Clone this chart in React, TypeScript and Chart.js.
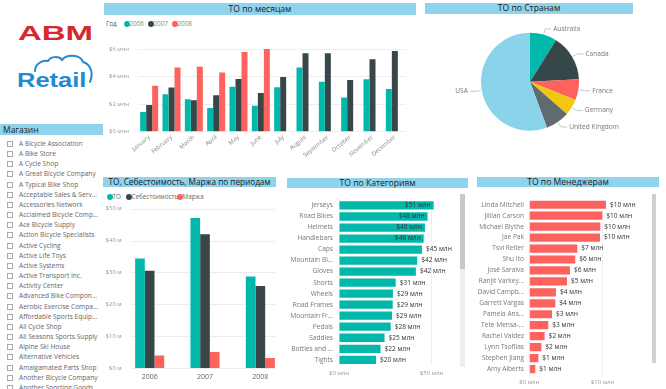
import React, { useEffect, useRef } from 'react';
import { Chart, registerables } from 'chart.js';

Chart.register(...registerables);

const FONT = '"Open Sans", "Noto Sans", sans-serif';
const TEAL = '#01B8AA';
const DARK = '#374649';
const RED = '#FD625E';
const YELLOW = '#F2C80F';
const GRAY = '#5F6B6D';
const LIGHT = '#8AD4EB';
const BAND = '#8FD3EC';

// ---- ТО по месяцам (млн $)
const months = ['January', 'February', 'March', 'April', 'May', 'June', 'July', 'August', 'September', 'October', 'November', 'December'];
const yearLabels = ['2006', '2007', '2008'];
const sales2006 = [1.43, 2.71, 2.35, 1.72, 3.27, 1.89, 3.22, 4.65, 3.63, 2.49, 3.8, 3.1];
const sales2007 = [1.94, 3.2, 2.28, 2.64, 3.83, 2.81, 3.97, 5.69, 5.69, 3.75, 5.25, 5.86];
const sales2008 = [3.34, 4.65, 4.72, 4.29, 5.79, 6.0, null, null, null, null, null, null];
const monthTicks = [0, 2, 4, 6];

// ---- ТО по Странам
const countries = ['Australia', 'Canada', 'France', 'Germany', 'United Kingdom', 'USA'];
const countrySales = [9.8, 16.8, 7.6, 5.9, 8.7, 61.2];

// ---- ТО, Себестоимость, Маржа по периодам
const periods = ['2006', '2007', '2008'];
const periodRevenue = [34.4, 47.1, 28.7];
const periodCost = [30.5, 42.0, 25.7];
const periodMargin = [3.9, 5.0, 3.1];
const periodTicks = [0, 10, 20, 30, 40, 50];

// ---- ТО по Категориям
const categories = ['Jerseys', 'Road Bikes', 'Helmets', 'Handlebars', 'Caps', 'Mountain Bi...', 'Gloves', 'Shorts', 'Wheels', 'Road Frames', 'Mountain Fr...', 'Pedals', 'Saddles', 'Bottles and ...', 'Tights'];
const categorySales = [51.1, 47.8, 46.4, 45.7, 44.8, 42.2, 41.5, 30.6, 29.1, 29.0, 28.6, 27.9, 24.6, 22.4, 20.0];
const categoryTicks = [0, 50];

// ---- ТО по Менеджерам
const managers = ['Linda Mitchell', 'Jillian Carson', 'Michael Blythe', 'Jae Pak', 'Tsvi Reiter', 'Shu Ito', 'José Saraiva', 'Ranjit Varkey...', 'David Campb...', 'Garrett Vargas', 'Pamela Ans...', 'Tete Mensa-...', 'Rachel Valdez', 'Lynn Tsoflias', 'Stephen Jiang', 'Amy Alberts'];
const managerSales = [10.46, 9.96, 9.69, 9.64, 6.55, 6.27, 5.55, 5.14, 3.64, 3.55, 3.09, 2.59, 2.09, 1.64, 1.23, 0.82];
const managerTicks = [0, 10];

// ---- Магазин
const stores = ['A Bicycle Association', 'A Bike Store', 'A Cycle Shop', 'A Great Bicycle Company', 'A Typical Bike Shop', 'Acceptable Sales & Serv...', 'Accessories Network', 'Acclaimed Bicycle Comp...', 'Ace Bicycle Supply', 'Action Bicycle Specialists', 'Active Cycling', 'Active Life Toys', 'Active Systems', 'Active Transport Inc.', 'Activity Center', 'Advanced Bike Compon...', 'Aerobic Exercise Compa...', 'Affordable Sports Equip...', 'All Cycle Shop', 'All Seasons Sports Supply', 'Alpine Ski House', 'Alternative Vehicles', 'Amalgamated Parts Shop', 'Another Bicycle Company', 'Another Sporting Goods...'];

const mln = (v: number) => `$${v} млн`;

function ChartBox(props: { left: number; top: number; width: number; height: number; make: () => any }) {
  const ref = useRef<HTMLCanvasElement>(null);
  useEffect(() => {
    const chart = new Chart(ref.current as HTMLCanvasElement, props.make());
    return () => chart.destroy();
  }, []);
  const { left, top, width, height } = props;
  return (
    <div style={{ position: 'absolute', left, top, width, height }}>
      <canvas ref={ref} width={width} height={height} style={{ width, height, display: 'block' }} />
    </div>
  );
}

const barLabelPlugin = (insideMin: number | null) => ({
  id: 'barLabels',
  afterDatasetsDraw(chart: any) {
    const ctx = chart.ctx;
    const meta = chart.getDatasetMeta(0);
    const data = chart.data.datasets[0].data;
    ctx.save();
    ctx.font = `6.6px ${FONT}`;
    ctx.fillStyle = '#333';
    ctx.textBaseline = 'middle';
    meta.data.forEach((el: any, i: number) => {
      const v = data[i];
      const txt = mln(Math.round(v));
      if (insideMin !== null && v >= insideMin) {
        ctx.textAlign = 'right';
        ctx.fillText(txt, el.x - 3, el.y);
      } else {
        ctx.textAlign = 'left';
        ctx.fillText(txt, el.x + 4, el.y);
      }
    });
    ctx.restore();
  },
});

const pieLabelPlugin = {
  id: 'pieLabels',
  afterDraw(chart: any) {
    const ctx = chart.ctx;
    const meta = chart.getDatasetMeta(0);
    ctx.save();
    ctx.font = `6.6px ${FONT}`;
    ctx.fillStyle = '#777';
    ctx.strokeStyle = '#bbb';
    ctx.lineWidth = 0.8;
    ctx.textBaseline = 'middle';
    meta.data.forEach((arc: any, i: number) => {
      const mid = (arc.startAngle + arc.endAngle) / 2;
      const r = arc.outerRadius;
      const c = Math.cos(mid);
      const s = Math.sin(mid);
      const x1 = arc.x + c * (r + 1);
      const y1 = arc.y + s * (r + 1);
      const x2 = arc.x + c * (r + 6);
      const y2 = arc.y + s * (r + 6);
      const dir = c >= 0 ? 1 : -1;
      const x3 = x2 + dir * 6;
      ctx.beginPath();
      ctx.moveTo(x1, y1);
      ctx.lineTo(x2, y2);
      ctx.lineTo(x3, y2);
      ctx.stroke();
      ctx.textAlign = dir > 0 ? 'left' : 'right';
      ctx.fillText(chart.data.labels[i], x3 + dir * 2, y2);
    });
    ctx.restore();
  },
};

const periodGridPlugin = {
  id: 'periodGrid',
  beforeDatasetsDraw(chart: any) {
    const y = chart.scales.y;
    const ctx = chart.ctx;
    ctx.save();
    ctx.strokeStyle = '#ececec';
    ctx.lineWidth = 1;
    const x0 = chart.chartArea.left + 9;
    const x1 = chart.chartArea.right - 13;
    y.ticks.forEach((t: any) => {
      const py = Math.round(y.getPixelForValue(t.value)) + 0.5;
      ctx.beginPath();
      ctx.moveTo(x0, py);
      ctx.lineTo(x1, py);
      ctx.stroke();
    });
    ctx.restore();
  },
};

const tickFont = (size: number) => ({ family: FONT, size });

function monthsConfig() {
  return {
    type: 'bar',
    data: {
      labels: months,
      datasets: [
        { label: yearLabels[0], data: sales2006, backgroundColor: TEAL },
        { label: yearLabels[1], data: sales2007, backgroundColor: DARK },
        { label: yearLabels[2], data: sales2008, backgroundColor: RED },
      ],
    },
    options: {
      responsive: false,
      animation: false,
      devicePixelRatio: 1,
      layout: { padding: { left: 0, right: 12, top: 33, bottom: 0 } },
      datasets: { bar: { categoryPercentage: 0.806, barPercentage: 1 } },
      plugins: { legend: { display: false }, tooltip: { enabled: false } },
      scales: {
        x: {
          grid: { display: false, drawTicks: false },
          border: { display: false },
          ticks: { font: tickFont(6), color: '#888', maxRotation: 40, minRotation: 40, autoSkip: false, padding: 2 },
          afterFit: (s: any) => { s.height = 42.3; },
        },
        y: {
          min: 0,
          max: 6,
          afterBuildTicks: (s: any) => { s.ticks = monthTicks.map((v) => ({ value: v })); },
          afterFit: (s: any) => { s.width = 38; },
          grid: { color: '#eeeeee', drawTicks: false },
          border: { display: false },
          ticks: { font: tickFont(6), color: '#999', padding: 9, callback: (v: any) => mln(v) },
        },
      },
    },
  };
}

function pieConfig() {
  return {
    type: 'pie',
    data: {
      labels: countries,
      datasets: [{ data: countrySales, backgroundColor: [TEAL, DARK, RED, YELLOW, GRAY, LIGHT], borderWidth: 0 }],
    },
    options: {
      responsive: false,
      animation: false,
      devicePixelRatio: 1,
      layout: { padding: { left: 61, top: 16.7, right: 87, bottom: 44.3 } },
      plugins: { legend: { display: false }, tooltip: { enabled: false } },
    },
    plugins: [pieLabelPlugin],
  };
}

function periodsConfig() {
  return {
    type: 'bar',
    data: {
      labels: periods,
      datasets: [
        { label: 'ТО', data: periodRevenue, backgroundColor: TEAL },
        { label: 'Себестоимость', data: periodCost, backgroundColor: DARK },
        { label: 'Маржа', data: periodMargin, backgroundColor: RED },
      ],
    },
    options: {
      responsive: false,
      animation: false,
      devicePixelRatio: 1,
      layout: { padding: { left: 0, right: 2, top: 8.7, bottom: 0 } },
      datasets: { bar: { categoryPercentage: 0.525, barPercentage: 1 } },
      plugins: { legend: { display: false }, tooltip: { enabled: false } },
      scales: {
        x: {
          grid: { display: false, drawTicks: false },
          border: { display: false },
          ticks: { font: tickFont(7), color: '#666', padding: 5 },
          afterFit: (s: any) => { s.height = 20; },
        },
        y: {
          min: 0,
          max: 50,
          afterBuildTicks: (s: any) => { s.ticks = periodTicks.map((v) => ({ value: v })); },
          afterFit: (s: any) => { s.width = 22; },
          grid: { display: false, drawTicks: false },
          border: { display: false },
          ticks: { font: tickFont(6), color: '#999', padding: -7, callback: (v: any) => mln(v) },
        },
      },
    },
    plugins: [periodGridPlugin],
  };
}

function hbarConfig(labels: string[], values: number[], color: string, max: number, ticks: number[], yWidth: number, yPad: number, padding: any, xHeight: number, insideMin: number | null) {
  return {
    type: 'bar',
    data: { labels, datasets: [{ data: values, backgroundColor: color }] },
    options: {
      indexAxis: 'y',
      responsive: false,
      animation: false,
      devicePixelRatio: 1,
      layout: { padding },
      datasets: { bar: { categoryPercentage: 1, barPercentage: 0.75 } },
      plugins: { legend: { display: false }, tooltip: { enabled: false } },
      scales: {
        x: {
          min: 0,
          max,
          afterBuildTicks: (s: any) => { s.ticks = ticks.map((v) => ({ value: v })); },
          afterFit: (s: any) => { s.height = xHeight; },
          grid: { color: '#eeeeee', drawTicks: false },
          border: { display: false },
          ticks: { font: tickFont(6), color: '#999', padding: 4, callback: (v: any) => mln(v) },
        },
        y: {
          afterFit: (s: any) => { s.width = yWidth; },
          grid: { display: false, drawTicks: false },
          border: { display: false },
          ticks: { font: tickFont(6.6), color: '#777', padding: yPad, autoSkip: false },
        },
      },
    },
    plugins: [barLabelPlugin(insideMin)],
  };
}

function Band(props: { left: number; top: number; width: number; height: number; text: string; align?: string; size?: number }) {
  const { left, top, width, height, text } = props;
  return (
    <div
      style={{
        position: 'absolute', left, top, width, height, background: BAND, color: '#222',
        fontFamily: FONT, fontSize: props.size || 8.6, lineHeight: `${height}px`,
        textAlign: (props.align as any) || 'center', whiteSpace: 'nowrap', overflow: 'hidden',
        paddingLeft: props.align === 'left' ? 3 : 0, boxSizing: 'border-box',
      }}
    >
      {text}
    </div>
  );
}

function Dot(props: { x: number; y: number; color: string }) {
  return <div style={{ position: 'absolute', left: props.x - 3, top: props.y - 3, width: 6, height: 6, borderRadius: 3, background: props.color }} />;
}

function Txt(props: { x: number; y: number; text: string; size?: number; color?: string }) {
  const size = props.size || 6.3;
  return (
    <div style={{ position: 'absolute', left: props.x, top: props.y - 6, height: 12, lineHeight: '12px', fontFamily: FONT, fontSize: size, color: props.color || '#666', whiteSpace: 'nowrap' }}>
      {props.text}
    </div>
  );
}

export default function App() {
  useEffect(() => { document.body.style.margin = '0'; }, []);
  return (
    <div style={{ position: 'absolute', left: 0, top: 0, width: 666, height: 389, overflow: 'hidden', background: '#fff' }}>
      {/* Logo */}
      <div style={{ position: 'absolute', left: 18, top: 22.2, fontFamily: '"Liberation Sans", Arial, sans-serif', fontWeight: 700, fontSize: 21, lineHeight: '21px', color: '#D7282F', transform: 'scaleX(1.57)', transformOrigin: 'left top', whiteSpace: 'nowrap' }}>ABM</div>
      <svg style={{ position: 'absolute', left: 0, top: 0 }} width={105} height={120}>
        <path d="M35 71 C35 64 42 60 48 61 C51 56 59 56 62 60 C66 54 80 54 83 62 C90 64 94 72 90 82" fill="none" stroke="#2389D1" strokeWidth={2} strokeLinecap="round" />
      </svg>
      <div style={{ position: 'absolute', left: 16.7, top: 70, fontFamily: '"Liberation Sans", Arial, sans-serif', fontWeight: 700, fontSize: 20.4, lineHeight: '20.4px', color: '#2389D1', transform: 'scaleX(1.25)', transformOrigin: 'left top', whiteSpace: 'nowrap' }}>Retail</div>

      {/* Store slicer */}
      <Band left={0} top={124} width={103} height={11} text="Магазин" align="left" size={8.5} />
      {stores.map((s, i) => {
        const y = 144 + i * 10.16;
        return (
          <React.Fragment key={s}>
            <div style={{ position: 'absolute', left: 7, top: y - 3, width: 6, height: 6, border: '1px solid #aaa', boxSizing: 'border-box' }} />
            <Txt x={19} y={y} text={s} size={6.6} color="#666" />
          </React.Fragment>
        );
      })}

      {/* Months chart */}
      <Band left={104} top={3} width={312} height={12} text="ТО по месяцам" />
      <Txt x={106} y={24} text="Год" color="#555" />
      <Dot x={126.7} y={24} color={TEAL} />
      <Txt x={129.5} y={24} text={yearLabels[0]} color="#888" />
      <Dot x={151} y={24} color={DARK} />
      <Txt x={153.5} y={24} text={yearLabels[1]} color="#888" />
      <Dot x={175} y={24} color={RED} />
      <Txt x={177.5} y={24} text={yearLabels[2]} color="#888" />
      <ChartBox left={100} top={16} width={318} height={158} make={monthsConfig} />

      {/* Countries pie */}
      <Band left={425} top={3} width={208} height={11} text="ТО по Странам" />
      <ChartBox left={420} top={16} width={246} height={159} make={pieConfig} />

      {/* Periods chart */}
      <Band left={103} top={177} width={173} height={10} text="ТО, Себестоимость, Маржа по периодам" size={8.2} />
      <Dot x={109.5} y={197} color={TEAL} />
      <Txt x={112.5} y={197} text="ТО" color="#666" />
      <Dot x={128.5} y={197} color={DARK} />
      <Txt x={131.5} y={197} text="Себестоимость" color="#666" />
      <Dot x={179.5} y={197} color={RED} />
      <Txt x={182.5} y={197} text="Маржа" color="#666" />
      <ChartBox left={100} top={200} width={190} height={188} make={periodsConfig} />

      {/* Categories */}
      <Band left={287} top={178} width={181} height={10} text="ТО по Категориям" />
      <ChartBox left={285} top={190} width={185} height={199}
        make={() => hbarConfig(categories, categorySales, TEAL, 55, categoryTicks, 54, 6, { left: 0, right: 29.1, top: 8.1, bottom: 0 }, 23.7, 45.5)} />
      <div style={{ position: 'absolute', left: 460, top: 194, width: 5, height: 173, background: '#eeeeee' }} />
      <div style={{ position: 'absolute', left: 460, top: 194, width: 5, height: 75, background: '#c8c8c8' }} />

      {/* Managers */}
      <Band left={477} top={177} width={182} height={10} text="ТО по Менеджерам" />
      <ChartBox left={470} top={190} width={196} height={199}
        make={() => hbarConfig(managers, managerSales, RED, 13, managerTicks, 59.3, 5.3, { left: 0, right: 41.4, top: 7.5, bottom: 0 }, 14.5, null)} />
      <div style={{ position: 'absolute', left: 651.5, top: 194, width: 4.5, height: 169, background: '#d0d0d0' }} />
    </div>
  );
}
